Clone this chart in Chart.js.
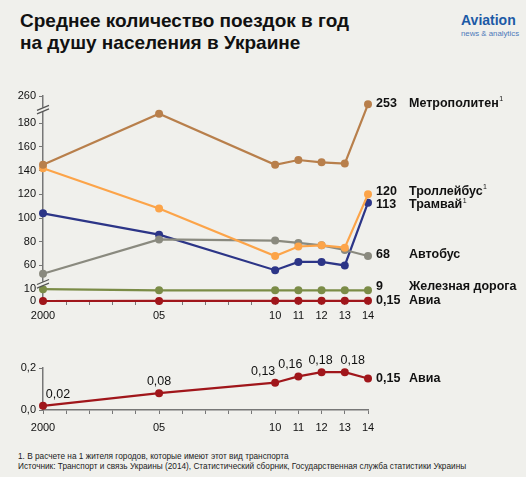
<!DOCTYPE html>
<html>
<head>
<meta charset="utf-8">
<script src="https://cdn.jsdelivr.net/npm/chart.js@4.4.1/dist/chart.umd.min.js"></script>
<style>
  body { margin: 0; background: #f0f0ec; width: 526px; height: 477px; position: relative; overflow: hidden;
         font-family: "Liberation Sans", Arial, sans-serif; color: #111; }
  #title { position: absolute; left: 20px; top: 10px; font-weight: bold; font-size: 19px; line-height: 22px; }
  #logo1 { position: absolute; left: 461px; top: 12px; font-weight: bold; font-size: 14px; color: #1c5aa6; white-space: nowrap; }
  #logo2 { position: absolute; left: 461px; top: 29px; font-size: 7.8px; color: #4d79ba; white-space: nowrap; }
  #notes { position: absolute; left: 18px; top: 452px; font-size: 8.25px; line-height: 10px; color: #222; white-space: nowrap; }
  canvas { position: absolute; left: 0; }
  #top { top: 86px; }
  #bottom { top: 350px; }
</style>
</head>
<body>
<div id="title">Среднее количество поездок в год<br>на душу населения в Украине</div>
<div id="logo1">Aviation</div>
<div id="logo2">news &amp; analytics</div>
<canvas id="top" width="526" height="245"></canvas>
<canvas id="bottom" width="526" height="95"></canvas>
<div id="notes">1. В расчете на 1 жителя городов, которые имеют этот вид транспорта<br>Источник: Транспорт и связь Украины (2014), Статистический сборник, Государственная служба статистики Украины</div>
<script>
// данные
const years = [2000, 2005, 2010, 2011, 2012, 2013, 2014];
const yearLabels = ['2000', '05', '10', '11', '12', '13', '14'];
const metro = [145, 188, 145, 149, 147, 146, 253];
const trolley = [142, 108, 68, 76, 77, 75, 120];
const tram = [104, 86, 56, 63, 63, 60, 113];
const bus = [53, 82, 81, 79, 77, 73, 68];
const rail = [10, 9, 9, 9, 9, 9, 9];
const avia = [0.02, 0.08, 0.13, 0.16, 0.18, 0.18, 0.15];
const topTicks = [0, 10, 60, 80, 100, 120, 140, 160, 180, 260];
const aviaTicks = [0, 0.2];
const seriesNames = ['Метрополитен', 'Троллейбус', 'Автобус', 'Трамвай', 'Железная дорога', 'Авиа'];
const footnoted = ['Метрополитен', 'Троллейбус', 'Трамвай'];

const BG = '#f0f0ec';
const AXIS = '#777';
const FONT = '"Liberation Sans", Arial, sans-serif';

// ось с разрывами: 10..50 сжато, 190..250 почти вырезано
function toD(v) {
  if (v <= 10) return v;
  if (v < 50) return 10 + (v - 10) * 10 / 40;
  if (v <= 190) return v - 30;
  if (v < 250) return 160 + (v - 190) * 3 / 60;
  return v - 87;
}
function fromD(d) {
  if (d <= 10) return d;
  if (d < 20) return 10 + (d - 10) * 4;
  if (d <= 160) return d + 30;
  if (d < 163) return 190 + (d - 160) * 20;
  return d + 87;
}

class BrokenScale extends Chart.LinearScale {
  static id = 'broken';
  static defaults = Chart.LinearScale.defaults;
  buildTicks() { return topTicks.map(v => ({ value: v })); }
  getPixelForValue(v) {
    if (v === null || v === undefined) return NaN;
    return this.getPixelForDecimal(toD(v) / toD(this.max));
  }
  getValueForPixel(p) { return fromD(this.getDecimalForPixel(p) * toD(this.max)); }
}
Chart.register(BrokenScale);

const fmt = v => String(v).replace('.', ',');
const pts = arr => years.map((y, i) => ({ x: y, y: arr[i] }));

function line(label, data, color, dy) {
  return {
    label: label, data: pts(data), borderColor: color, backgroundColor: color,
    borderWidth: 2.2, pointRadius: 4, pointHoverRadius: 4, pointBorderWidth: 0,
    pointBackgroundColor: color, tension: 0, clip: false, labelDy: dy
  };
}

const xScale = (h, pad) => ({
  type: 'linear', min: 2000, max: 2014,
  border: { display: true, color: AXIS, width: 1.5 },
  grid: { display: true, drawOnChartArea: false, drawTicks: true, tickLength: 4, color: AXIS },
  ticks: {
    stepSize: 1, autoSkip: false, maxRotation: 0, padding: pad, color: '#111',
    font: { family: FONT, size: 11 },
    callback: v => { const i = years.indexOf(v); return i >= 0 ? yearLabels[i] : ''; }
  },
  afterFit: s => { s.height = h; }
});

// разрывы оси и подписи справа
const breakPlugin = {
  id: 'breaks',
  afterDraw(chart) {
    const ctx = chart.ctx, y = chart.scales.y, x = y.right;
    [28, 220].forEach(v => {
      const p = y.getPixelForValue(v);
      ctx.save();
      ctx.fillStyle = BG;
      ctx.fillRect(x - 3, p - 2, 6, 4);
      ctx.strokeStyle = '#555';
      ctx.lineWidth = 1.2;
      [-1.8, 1.8].forEach(o => {
        ctx.beginPath();
        ctx.moveTo(x - 6, p + o + 2.5);
        ctx.lineTo(x + 6, p + o - 2.5);
        ctx.stroke();
      });
      ctx.restore();
    });
  }
};

function drawEndLabel(ctx, x, y, value, name) {
  ctx.save();
  ctx.fillStyle = '#111';
  ctx.textBaseline = 'middle';
  ctx.font = 'bold 12.5px ' + FONT;
  ctx.fillText(value, 376, y);
  ctx.fillText(name, 409, y);
  if (footnoted.includes(name)) {
    const w = ctx.measureText(name).width;
    ctx.font = '7px ' + FONT;
    ctx.fillText('1', 409 + w + 0.5, y - 4);
  }
  ctx.restore();
}

const endLabelPlugin = {
  id: 'endLabels',
  afterDatasetsDraw(chart) {
    chart.data.datasets.forEach((ds, i) => {
      const el = chart.getDatasetMeta(i).data[years.length - 1];
      const last = ds.data[years.length - 1].y;
      drawEndLabel(chart.ctx, el.x, el.y + (ds.labelDy || 0), fmt(last), ds.label);
    });
  }
};

new Chart(document.getElementById('top'), {
  type: 'line',
  data: {
    datasets: [
      line(seriesNames[0], metro, '#b87f4b', -1),
      line(seriesNames[1], trolley, '#fca449', -3),
      line(seriesNames[2], bus, '#8a8a7f', -1),
      line(seriesNames[3], tram, '#2c3587', 2),
      line(seriesNames[4], rail, '#7b8c47', -4),
      line(seriesNames[5], avia, '#a0161b', 0)
    ]
  },
  options: {
    responsive: false, animation: false, devicePixelRatio: 1,
    layout: { padding: { top: 10, right: 158, left: 0, bottom: 0 } },
    plugins: { legend: { display: false }, tooltip: { enabled: false } },
    scales: {
      x: xScale(30, 4),
      y: {
        type: 'broken', min: 0, max: 260,
        border: { display: true, color: AXIS, width: 1.5 },
        grid: { display: true, drawOnChartArea: false, drawTicks: true, tickLength: 4, color: AXIS },
        ticks: { autoSkip: false, padding: 3, color: '#111', font: { family: FONT, size: 11 }, callback: v => String(v) },
        afterFit: s => { s.width = 43; }
      }
    }
  },
  plugins: [breakPlugin, endLabelPlugin]
});

// нижний график: авиа
const valueLabelPlugin = {
  id: 'valueLabels',
  afterDatasetsDraw(chart) {
    const ctx = chart.ctx, meta = chart.getDatasetMeta(0);
    const dx = [15, 0, -12, -8, -1, 8];
    ctx.save();
    ctx.fillStyle = '#111';
    ctx.font = '12.5px ' + FONT;
    ctx.textAlign = 'center';
    ctx.textBaseline = 'middle';
    avia.slice(0, -1).forEach((v, i) => {
      const el = meta.data[i];
      ctx.fillText(fmt(v), el.x + dx[i], el.y - 11.5);
    });
    ctx.restore();
    const lastEl = meta.data[years.length - 1];
    drawEndLabel(ctx, lastEl.x, lastEl.y, fmt(avia[years.length - 1]), seriesNames[5]);
  }
};

new Chart(document.getElementById('bottom'), {
  type: 'line',
  data: { datasets: [line(seriesNames[5], avia, '#a0161b', 0)] },
  options: {
    responsive: false, animation: false, devicePixelRatio: 1,
    layout: { padding: { top: 18, right: 158, left: 0, bottom: 0 } },
    plugins: { legend: { display: false }, tooltip: { enabled: false } },
    scales: {
      x: xScale(35, 7),
      y: {
        type: 'linear', min: 0, max: 0.2,
        afterBuildTicks: s => { s.ticks = aviaTicks.map(v => ({ value: v })); },
        border: { display: true, color: AXIS, width: 1.5 },
        grid: { display: true, drawOnChartArea: false, drawTicks: true, tickLength: 4, color: AXIS },
        ticks: { autoSkip: false, padding: 3, color: '#111', font: { family: FONT, size: 11 },
                 callback: v => v.toFixed(1).replace('.', ',') },
        afterFit: s => { s.width = 43; }
      }
    }
  },
  plugins: [valueLabelPlugin]
});
</script>
</body>
</html>
